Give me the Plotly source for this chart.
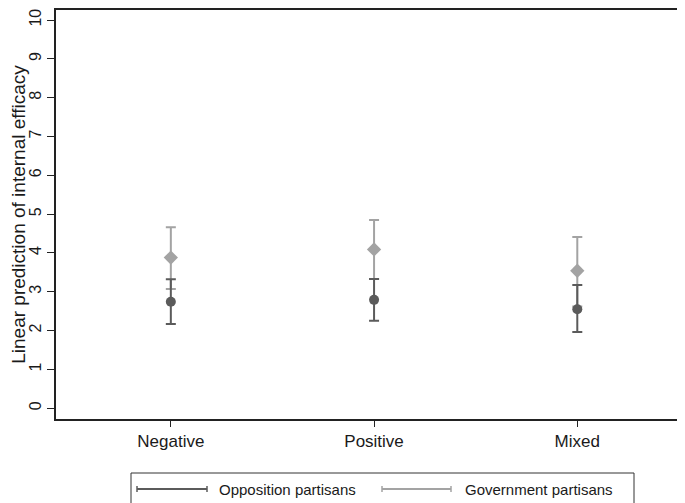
import plotly.graph_objects as go

categories = ["Negative", "Positive", "Mixed"]
cat_pos = [1, 2, 3]

opp_est = [2.74, 2.79, 2.55]
opp_lo = [2.17, 2.25, 1.96]
opp_hi = [3.32, 3.33, 3.17]

gov_est = [3.88, 4.09, 3.54]
gov_lo = [3.07, 3.33, 2.62]
gov_hi = [4.66, 4.85, 4.41]

y_ticks = list(range(0, 11))

DARK = "#5b5b5b"
LIGHT = "#a3a3a3"
FONT = "Liberation Sans, Arial, sans-serif"
TXT = "#1a1a1a"

fig = go.Figure()

fig.add_trace(go.Scatter(
    x=cat_pos, y=gov_est, mode="markers",
    marker=dict(symbol="diamond", size=11, color=LIGHT),
    error_y=dict(type="data", symmetric=False,
                 array=[h - e for h, e in zip(gov_hi, gov_est)],
                 arrayminus=[e - l for e, l in zip(gov_est, gov_lo)],
                 color=LIGHT, thickness=2, width=5),
    name="Government partisans", showlegend=False))

fig.add_trace(go.Scatter(
    x=cat_pos, y=opp_est, mode="markers",
    marker=dict(symbol="circle", size=10, color=DARK),
    error_y=dict(type="data", symmetric=False,
                 array=[h - e for h, e in zip(opp_hi, opp_est)],
                 arrayminus=[e - l for e, l in zip(opp_est, opp_lo)],
                 color=DARK, thickness=2, width=5),
    name="Opposition partisans", showlegend=False))

# page has an 8px body margin; size the figure so it ends at the window edge
OFF = 8
W, H = 685 - OFF, 503 - OFF
ml, mr, mt = 56 - OFF, 0, 10 - OFF
mb = H - (419 - OFF)
pw, ph = W - ml - mr, H - mt - mb


def px(xp):
    return (xp - OFF - ml) / pw


def py(yp):
    return (H - mb - (yp - OFF)) / ph


shapes = []
shapes.append(dict(type="rect", xref="paper", yref="paper",
                   x0=px(131), x1=px(634), y0=py(473), y1=py(530),
                   line=dict(color="#333333", width=1), fillcolor="white"))
legend_items = [("Opposition partisans", DARK, 137, 207, 217),
                ("Government partisans", LIGHT, 382, 451, 463)]
ly = 489
annotations = []
for label, col, x0, x1, tx in legend_items:
    shapes.append(dict(type="line", xref="paper", yref="paper",
                       x0=px(x0), x1=px(x1), y0=py(ly), y1=py(ly),
                       line=dict(color=col, width=2)))
    for xc in (x0, x1):
        shapes.append(dict(type="line", xref="paper", yref="paper",
                           x0=px(xc), x1=px(xc), y0=py(ly - 3), y1=py(ly + 3),
                           line=dict(color=col, width=1.5)))
    annotations.append(dict(text=label, xref="paper", yref="paper",
                            x=px(tx), y=py(ly), xanchor="left", yanchor="middle",
                            showarrow=False,
                            font=dict(family=FONT, size=15, color=TXT)))

fig.update_layout(
    width=W, height=H,
    margin=dict(l=ml, r=mr, t=mt, b=mb),
    paper_bgcolor="white", plot_bgcolor="white",
    shapes=shapes, annotations=annotations,
    xaxis=dict(range=[0.435, 3.53], tickvals=cat_pos, ticktext=categories,
               showgrid=False, zeroline=False, showline=True, mirror=True,
               linecolor="#222222", linewidth=1.5,
               ticks="outside", ticklen=6, tickcolor="#222222",
               tickfont=dict(family=FONT, size=17, color=TXT)),
    yaxis=dict(range=[-0.28, 10.26], tickvals=y_ticks, tickangle=-90,
               showgrid=False, zeroline=False, showline=True,
               linecolor="#222222", linewidth=1.5,
               ticks="outside", ticklen=7, tickcolor="#222222",
               tickfont=dict(family=FONT, size=16, color=TXT),
               title=dict(text="Linear prediction of internal efficacy",
                          font=dict(family=FONT, size=19, color=TXT),
                          standoff=4)),
)

fig.write_html("out.html")
